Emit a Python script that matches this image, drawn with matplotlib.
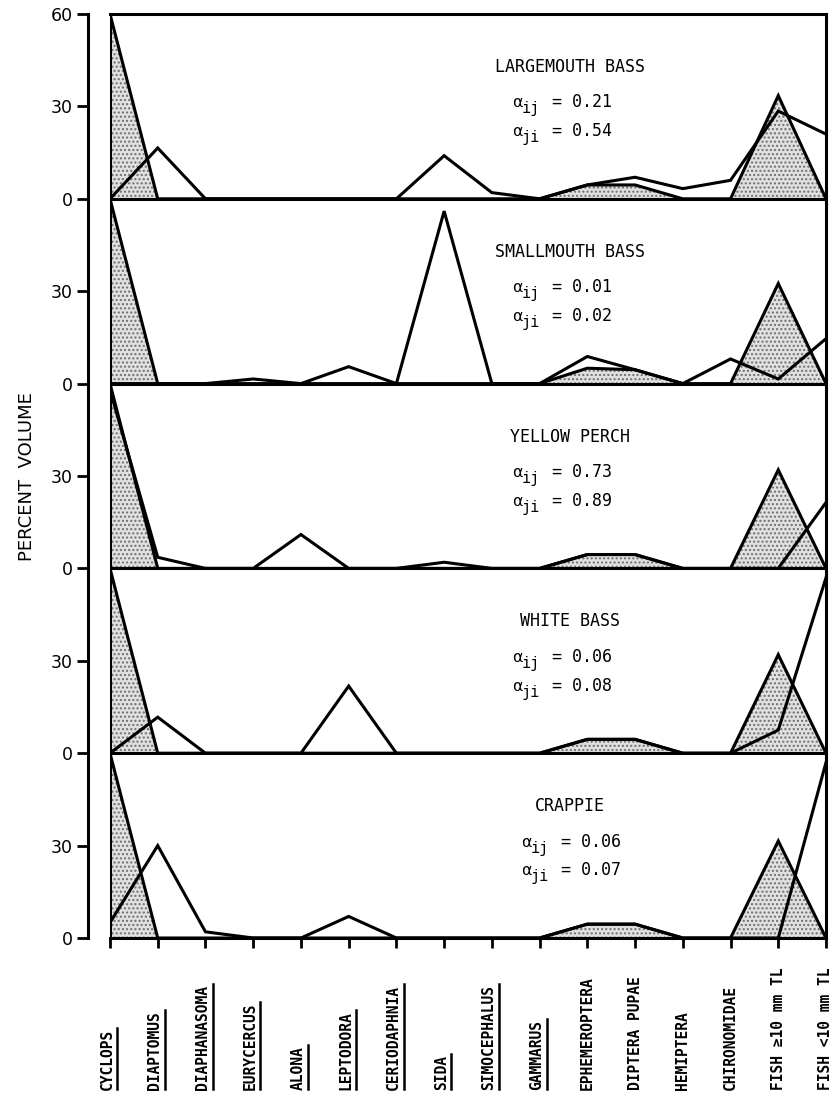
import matplotlib
matplotlib.use("Agg")
import matplotlib.pyplot as plt
import numpy as np
from matplotlib.transforms import blended_transform_factory
from matplotlib.lines import Line2D

# ---------------- data ----------------
categories = ["CYCLOPS", "DIAPTOMUS", "DIAPHANASOMA", "EURYCERCUS", "ALONA",
              "LEPTODORA", "CERIODAPHNIA", "SIDA", "SIMOCEPHALUS", "GAMMARUS",
              "EPHEMEROPTERA", "DIPTERA PUPAE", "HEMIPTERA", "CHIRONOMIDAE",
              "FISH \u226510 mm TL", "FISH <10 mm TL"]
underlined = [True] * 10 + [False] * 6

species = ["LARGEMOUTH BASS", "SMALLMOUTH BASS", "YELLOW PERCH", "WHITE BASS", "CRAPPIE"]
alpha_ij = ["0.21", "0.01", "0.73", "0.06", "0.06"]
alpha_ji = ["0.54", "0.02", "0.89", "0.08", "0.07"]

# shaded (reference predator) diet, one per panel
shaded_largemouth = [60, 0, 0, 0, 0, 0, 0, 0, 0, 0, 4.5, 4.5, 0, 0, 33.5, 0]
shaded_smallmouth = [60, 0, 0, 0, 0, 0, 0, 0, 0, 0, 5, 4.5, 0, 0, 32.5, 0]
shaded_yellowperch = [60, 0, 0, 0, 0, 0, 0, 0, 0, 0, 4.5, 4.5, 0, 0, 32, 0]
shaded_whitebass = [60, 0, 0, 0, 0, 0, 0, 0, 0, 0, 4.5, 4.5, 0, 0, 32, 0]
shaded_crappie = [60, 0, 0, 0, 0, 0, 0, 0, 0, 0, 4.5, 4.5, 0, 0, 31.5, 0]

# open line: diet of the named species
largemouth = [0, 16.5, 0, 0, 0, 0, 0, 14, 2, 0, 4.5, 7, 3.3, 6, 28.5, 21]
smallmouth = [0, 0, 0, 1.5, 0, 5.5, 0, 56, 0, 0, 8.8, 4.5, 0, 8, 1.5, 14.6]
yellowperch = [58, 3.6, 0, 0, 11, 0, 0, 2, 0, 0, 4.5, 4.5, 0, 0, 0, 21.4]
whitebass = [0, 11.7, 0, 0, 0, 21.8, 0, 0, 0, 0, 4.5, 4.5, 0, 0, 7.5, 57]
crappie = [5, 30, 2, 0, 0, 7, 0, 0, 0, 0, 4.5, 4.5, 0, 0, 0, 57]

shaded_sets = [shaded_largemouth, shaded_smallmouth, shaded_yellowperch,
               shaded_whitebass, shaded_crappie]
open_sets = [largemouth, smallmouth, yellowperch, whitebass, crappie]

# ---------------- figure ----------------
W, H = 840, 1109
fig = plt.figure(figsize=(W / 100, H / 100), dpi=100)
ax = fig.add_axes([110 / W, 1 - 938 / H, 716 / W, 924 / H])

LW = 2.2
PANEL = 60
n = len(categories)
x = np.arange(n)
mono = "DejaVu Sans Mono"
DPX = (n - 1) / 716.0      # data units per pixel (x)
VPX = PANEL / 184.6        # data units per pixel (y)

for k in range(5):
    off = (4 - k) * PANEL
    s = np.array(shaded_sets[k], dtype=float)
    o = np.array(open_sets[k], dtype=float)
    ax.fill_between(x, off, off + s, facecolor="#e0e0e0", edgecolor="#6e6e6e",
                    hatch="....", linewidth=0, zorder=1)
    ax.plot(x, off + s, color="black", lw=LW, solid_joinstyle="miter", zorder=3)
    ax.plot(x, off + o, color="black", lw=LW, solid_joinstyle="miter", zorder=3)
    if k > 0:
        ax.axhline(off + PANEL, color="black", lw=LW, zorder=4)

    ax.text(9.63, off + 41.2, species[k], ha="center", va="baseline",
            family=mono, fontsize=12, zorder=5)
    x0 = 512 - 110 + (9 if k == 4 else 0)
    for yb, sub, val in [(29.7, "ij", alpha_ij[k]), (20.3, "ji", alpha_ji[k])]:
        ax.text(x0 * DPX, off + yb, "\u03b1", ha="left", va="baseline",
                family="DejaVu Sans", fontsize=11.5, zorder=5)
        ax.text((x0 + 10) * DPX, off + yb - 6 * VPX, sub, ha="left",
                va="baseline", family=mono, fontsize=11, zorder=5)
        ax.text((x0 + 40) * DPX, off + yb, "= " + val, ha="left",
                va="baseline", family=mono, fontsize=12, zorder=5)

ax.axvline(0, color="black", lw=LW, zorder=4)
ax.set_xlim(0, n - 1)
ax.set_ylim(0, 5 * PANEL)

# spines
for sp in ["top", "right", "bottom"]:
    ax.spines[sp].set_linewidth(LW)
ax.spines["left"].set_linewidth(LW)
ax.spines["left"].set_position(("outward", 22 * 72 / 100))

yt = np.arange(0, 5 * PANEL + 1, 30)
ylabels = []
for v in yt:
    if v == 5 * PANEL:
        ylabels.append("60")
    else:
        ylabels.append(str(int(v % PANEL)))
ax.set_yticks(yt)
ax.set_yticklabels(ylabels)
ax.tick_params(axis="y", direction="out", length=8, width=2, labelsize=12.5, pad=3)
ax.set_xticks(x)
ax.set_xticklabels([])
ax.tick_params(axis="x", direction="out", length=7.5, width=2)

# category labels, bottom aligned
trans = blended_transform_factory(ax.transData, fig.transFigure)
label_texts = []
for i, (lab, ul) in enumerate(zip(categories, underlined)):
    dx = -0.06 if ul else 0.0
    t = ax.text(i + dx, 1 - 1090 / H, lab, transform=trans, rotation=90,
                ha="center", va="bottom", family=mono, fontsize=10.5,
                fontweight="bold")
    label_texts.append((t, ul))

fig.text(27 / W, 1 - 477 / H, "PERCENT  VOLUME", rotation=90, ha="center",
         va="center", fontsize=13)

fig.canvas.draw()
renderer = fig.canvas.get_renderer()
inv = fig.transFigure.inverted()
for t, ul in label_texts:
    if not ul:
        continue
    bb = t.get_window_extent(renderer)
    xx = bb.x1 + 2.5
    p0 = inv.transform((xx, bb.y0 + 1))
    p1 = inv.transform((xx, bb.y1 + 1))
    fig.add_artist(Line2D([p0[0], p1[0]], [p0[1], p1[1]], color="black",
                          lw=1.8, transform=fig.transFigure))

fig.savefig("out.png", dpi=100)
